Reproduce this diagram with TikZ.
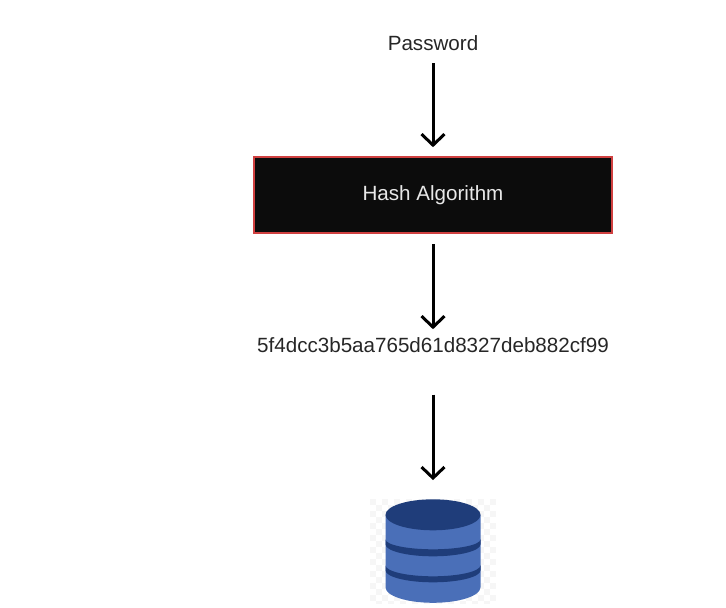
\documentclass[tikz,border=0pt]{standalone}
\usepackage{fontspec}
\setmainfont{Liberation Sans}
\usepackage{xcolor}
\usetikzlibrary{arrows.meta, positioning}
\definecolor{HashBlack}{RGB}{12, 12, 12}
\definecolor{HashRed}{RGB}{208, 64, 64}
\definecolor{HashText}{RGB}{232, 232, 232}
\definecolor{DbBlue}{RGB}{74, 111, 184}
\definecolor{DbDark}{RGB}{31, 61, 122}
\definecolor{DbCheck}{RGB}{246, 246, 246}

\begin{document}
\begin{tikzpicture}[
    x=1pt, y=1pt,
    font=\fontsize{20.6pt}{24pt}\selectfont,
    label/.style={
        inner sep=0pt, text height=15pt, text depth=0pt, text=black!85
    },
    block/.style={
        rectangle, draw=HashRed, line width=2pt, fill=HashBlack, text=HashText,
        minimum width=358pt, minimum height=76pt, inner sep=0pt
    },
    store/.style={
        rectangle, minimum width=126pt, minimum height=104pt, inner sep=0pt
    },
    arrow/.style={-{Straight Barb[length=11pt,width=23pt]}, line width=3pt, color=black}
]
\useasboundingbox (0,0) rectangle (726,-608);

% Nodes
\node[label] (password) at (433,-43) {Password};
\node[block, below=105.5pt of password] (hash) {Hash Algorithm};
\node[label, below=103pt of hash] (digest) {5f4dcc3b5aa765d61d8327deb882cf99};
\node[store, below=146.5pt of digest] (db) {};

% Database icon
\begin{scope}[shift={(db.center)}]
    \begin{scope}
        \clip (-63,52) rectangle (63,-52);
        \foreach \col in {0,...,20} {
            \foreach \row in {0,...,17} {
                \pgfmathparse{int(mod(\col+\row,2))}
                \ifnum\pgfmathresult=0
                    \fill[DbCheck] (-63+\col*6,52-\row*6) rectangle ++(6,-6);
                \fi
            }
        }
    \end{scope}
    \fill[DbBlue] (-47.5,36.5) -- (-47.5,-36) arc[start angle=180, end angle=360, x radius=47.5, y radius=15.5] -- (47.5,36.5) -- cycle;
    \fill[DbDark] (0,36.5) ellipse[x radius=47.5, y radius=15.5];
    \fill[DbDark] (-47.5,12) arc[start angle=180, end angle=360, x radius=47.5, y radius=10]
        -- (47.5,7) arc[start angle=0, end angle=-180, x radius=47.5, y radius=12] -- cycle;
    \fill[DbDark] (-47.5,-14) arc[start angle=180, end angle=360, x radius=47.5, y radius=11]
        -- (47.5,-19) arc[start angle=0, end angle=-180, x radius=47.5, y radius=12] -- cycle;
\end{scope}

% Paths
\draw[arrow, shorten <=12.5pt, shorten >=9pt] (password) -- (hash);
\draw[arrow, shorten <=10pt, shorten >=8pt] (hash) -- (digest);
\draw[arrow, shorten <=42pt, shorten >=19pt] (digest) -- (db);

\end{tikzpicture}
\end{document}
